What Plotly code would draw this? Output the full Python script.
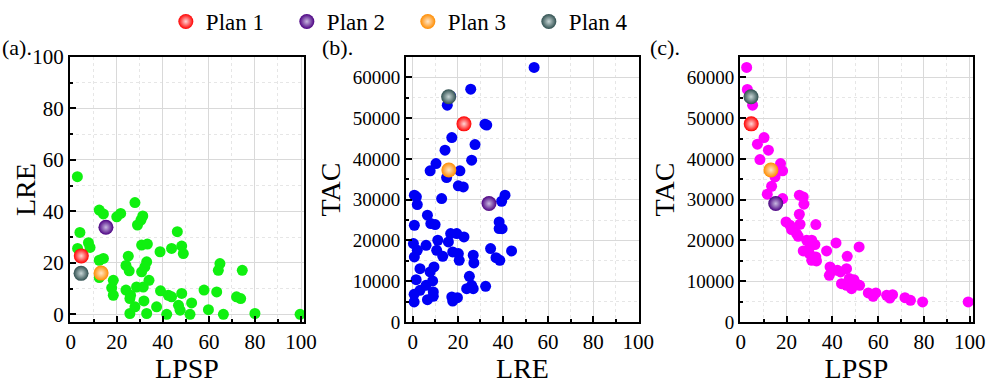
import plotly.graph_objects as go

# ---------------- data ----------------
# Panel (a): LPSP vs LRE
a_lpsp = [2.9, 4.0, 3.0, 7.7, 8.4, 12.4, 14.2, 20.0, 21.7, 27.9, 31.3, 30.5, 29.0, 12.4, 14.2, 12.4,
          18.5, 17.8, 18.5, 25.0, 24.0, 25.4, 24.0, 26.0, 25.7, 25.7, 27.9, 28.6, 31.5, 30.8, 33.3,
          33.0, 32.2, 30.8, 34.0, 31.8, 33.0, 38.8, 39.0, 37.3, 42.4, 43.8, 41.7, 43.8, 46.3, 48.2,
          48.9, 48.2, 46.8, 47.5, 51.8, 52.5, 57.9, 59.8, 63.4, 64.8, 64.1, 66.3, 72.0, 73.8, 74.5,
          80.0, 99.6]
a_lre = [53.5, 31.8, 25.6, 27.8, 26.0, 40.5, 39.0, 37.9, 39.2, 43.4, 38.2, 36.6, 34.7, 21.0, 21.7, 14.3,
         13.2, 10.3, 7.4, 22.6, 19.0, 16.9, 9.4, 7.4, 6.1, 0.3, 2.9, 10.6, 10.6, 26.9, 27.3,
         20.4, 18.4, 16.5, 13.2, 5.2, 0.3, 24.3, 9.1, 2.9, 7.4, 6.8, 0.0, 25.6, 32.1, 26.5,
         23.6, 8.1, 3.5, 1.6, 0.0, 4.4, 9.4, 1.8, 8.7, 19.7, 17.1, 0.0, 6.8, 6.1, 17.1,
         0.3, 0.0]

# Panel (b): LRE vs TAC
b_lre = [53.8, 25.7, 16.8, 15.3, 32.0, 32.8, 17.3, 27.6, 14.3, 26.1, 10.3, 7.7, 20.9, 15.0, 20.2, 22.4,
         12.8, 0.7, 1.6, 2.0, 40.9, 39.4, 6.5, 8.0, 9.9, 0.7, 38.3, 38.3, 39.6, 16.8, 19.5, 22.7,
         15.8, 11.1, 0.3, 2.0, 0.7, 5.9, 10.6, 13.3, 17.7, 20.2, 20.6, 26.8, 27.1, 34.5, 36.9,
         38.6, 43.8, 3.2, 9.4, 7.7, 1.5, 8.8, 5.9, 25.1, 26.1, 23.9, 26.8, 32.3, 0.6, 3.2, 9.1,
         9.1, 6.5, 17.3, 19.8, 17.7, 0.6]
b_tac = [62440, 57120, 55400, 53190, 48530, 48300, 45250, 43530, 42140, 39690, 38870, 37070, 37070, 35430,
         33390, 33140, 30280, 31100, 30700, 28800, 31100, 29620, 26190, 24140, 23900, 23730, 24550,
         22910, 22900, 21690, 21690, 20870, 19640, 20050, 19230, 17590, 15960, 18820, 17590, 16120,
         17180, 16780, 15140, 16370, 14480, 18000, 15790, 15140, 17430, 13090, 13500, 12270, 10390,
         10070, 9000, 11210, 9000, 8180, 8180, 8760, 6790, 7770, 7360, 6300, 5480, 6140, 5970,
         5150, 4910]

# Panel (c): LPSP vs TAC
c_lpsp = [2.6, 2.9, 5.2, 10.2, 7.3, 12.1, 8.4, 17.4, 18.3, 15.0, 13.5, 11.6, 18.3, 25.6, 27.3, 27.6,
          25.6, 19.8, 25.9, 32.8, 21.5, 22.2, 24.4, 25.1, 28.8, 31.0, 32.4, 30.2, 27.3, 37.5, 41.6,
          51.7, 46.5, 30.0, 32.8, 31.0, 33.1, 39.0, 42.2, 43.6, 46.2, 38.7, 44.0, 46.2, 48.4, 49.4,
          50.3, 51.9, 47.4, 55.7, 59.0, 57.8, 63.7, 65.1, 66.3, 71.7, 74.1, 79.4, 99.3]
c_tac = [62440, 57040, 53190, 45250, 43620, 42140, 39850, 38870, 37070, 35600, 33300, 31340, 30280, 31100,
         30690, 28890, 26430, 24550, 23980, 23900, 23730, 22670, 21690, 21030, 20050, 20050, 18990,
         18410, 17430, 17430, 19390, 18410, 16120, 16780, 15960, 15140, 14970, 13500, 12680, 12270,
         13090, 11460, 9410, 9000, 8180, 10390, 9410, 9000, 10640, 7120, 7120, 6300, 6550, 5890,
         6710, 5970, 5320, 4910, 4910]

# Selected plans (LPSP, LRE, TAC)
plan_names = ["Plan 1", "Plan 2", "Plan 3", "Plan 4"]
plan_lpsp = [4.6, 15.3, 13.2, 4.5]
plan_lre = [22.7, 33.8, 16.0, 15.9]
plan_tac = [48600, 29050, 37300, 55240]
plan_colors = ["#ff0000", "#4b0082", "#ff8c00", "#2f4f4f"]
plan_tints = ["#ffd6d6", "#c8b8e0", "#ffe6c8", "#c8d6d6"]

FONT = "Liberation Serif"

fig = go.Figure()

fig.add_trace(go.Scatter(x=a_lpsp, y=a_lre, mode="markers", showlegend=False,
                         marker=dict(color="#10f010", size=11), xaxis="x", yaxis="y"))
fig.add_trace(go.Scatter(x=b_lre, y=b_tac, mode="markers", showlegend=False,
                         marker=dict(color="#0000f5", size=11), xaxis="x2", yaxis="y2"))
fig.add_trace(go.Scatter(x=c_lpsp, y=c_tac, mode="markers", showlegend=False,
                         marker=dict(color="#ff00ff", size=11), xaxis="x3", yaxis="y3"))

for i, name in enumerate(plan_names):
    mk = dict(color=plan_colors[i], size=15,
              gradient=dict(type="radial", color=plan_tints[i]))
    fig.add_trace(go.Scatter(x=[plan_lpsp[i]], y=[plan_lre[i]], mode="markers", name=name,
                             marker=mk, xaxis="x", yaxis="y", legendgroup=name))
    fig.add_trace(go.Scatter(x=[plan_lre[i]], y=[plan_tac[i]], mode="markers", name=name,
                             marker=mk, xaxis="x2", yaxis="y2", legendgroup=name, showlegend=False))
    fig.add_trace(go.Scatter(x=[plan_lpsp[i]], y=[plan_tac[i]], mode="markers", name=name,
                             marker=mk, xaxis="x3", yaxis="y3", legendgroup=name, showlegend=False))

ydom = [1 - 322 / 384, 1 - 57 / 384]


def axis_style(title, rng, dtick, tickfont, domain, anchor, minor_dtick, standoff):
    return dict(
        title=dict(text=title, font=dict(family=FONT, size=28, color="black"), standoff=standoff),
        range=rng, dtick=dtick, tick0=0, domain=domain, anchor=anchor, tickformat="d",
        showline=True, linecolor="black", linewidth=2, mirror=True,
        ticks="inside", ticklen=6, tickwidth=2, tickcolor="black",
        tickfont=dict(family=FONT, size=tickfont, color="black"),
        showgrid=True, gridcolor="#d9d9d9", gridwidth=1, zeroline=False,
        minor=dict(dtick=minor_dtick, tick0=0, ticks="inside", ticklen=3, tickwidth=1.5,
                   tickcolor="black", showgrid=True, gridcolor="#e6e6e6", griddash="dot", gridwidth=1),
    )


fig.update_layout(
    width=999, height=384,
    margin=dict(l=0, r=0, t=0, b=0, autoexpand=False),
    paper_bgcolor="white", plot_bgcolor="white",
    font=dict(family=FONT, color="black"),
    xaxis=axis_style("LPSP", [-0.3, 101.3], 20, 21, [70 / 999, 304 / 999], "y", 10, 1),
    yaxis=axis_style("", [-3, 100], 20, 21, ydom, "x", 10, 0),
    xaxis2=axis_style("LRE", [-3, 100.3], 20, 21, [406 / 999, 639 / 999], "y2", 10, 1),
    yaxis2=axis_style("TAC", [0, 65000], 10000, 19, ydom, "x2", 5000, 4),
    xaxis3=axis_style("LPSP", [-0.3, 101.4], 20, 21, [740 / 999, 973 / 999], "y3", 10, 1),
    yaxis3=axis_style("TAC", [0, 65000], 10000, 19, ydom, "x3", 5000, 4),
    legend=dict(orientation="h", x=0.166, y=1.0, xanchor="left", yanchor="top",
                font=dict(family=FONT, size=23, color="black"),
                entrywidth=76, entrywidthmode="pixels", bgcolor="rgba(0,0,0,0)"),
    annotations=[
        dict(text="LRE", x=25 / 999, y=1 - 190 / 384, xref="paper", yref="paper", textangle=-90,
             xanchor="center", yanchor="middle", showarrow=False,
             font=dict(family=FONT, size=28, color="black")),
        dict(text="(a).", x=0, y=1 - 33 / 384, xref="paper", yref="paper",
             xanchor="left", yanchor="top", showarrow=False, font=dict(family=FONT, size=22)),
        dict(text="(b).", x=320 / 999, y=1 - 33 / 384, xref="paper", yref="paper",
             xanchor="left", yanchor="top", showarrow=False, font=dict(family=FONT, size=22)),
        dict(text="(c).", x=648 / 999, y=1 - 33 / 384, xref="paper", yref="paper",
             xanchor="left", yanchor="top", showarrow=False, font=dict(family=FONT, size=22)),
    ],
)

fig.write_html("out.html", config={"displayModeBar": False},
               post_script="document.body.style.margin='0';")
